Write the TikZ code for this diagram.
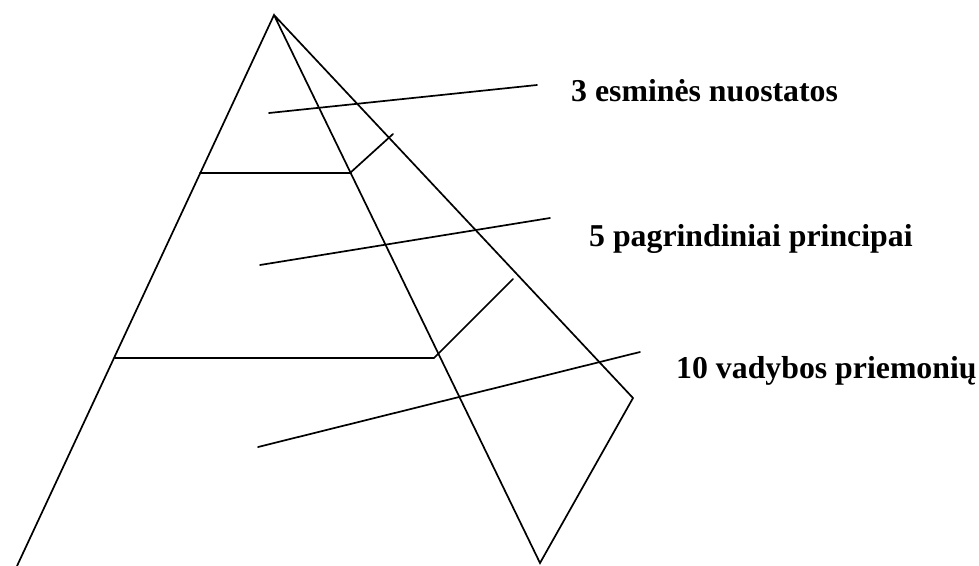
\documentclass[tikz,border=0pt]{standalone}
\usepackage{fontspec}
\setmainfont{Liberation Serif}
\begin{document}
\begin{tikzpicture}[x=1pt,y=-1pt,
  edge/.style={line width=1.7pt,line cap=round,line join=miter},
  lbl/.style={anchor=base west,inner sep=0pt,font=\fontsize{31.8}{36}\selectfont\bfseries}]
\useasboundingbox (0,0) rectangle (979,565);
% pyramid
\coordinate (apex) at (274,15);
\coordinate (bl) at (17,566);
\coordinate (bf) at (540,563);
\coordinate (br) at (633,398);
\draw[edge] (bl) -- (apex) -- (bf) -- (br) -- (apex);
% level divisions
\coordinate (h1a) at (200,173);
\coordinate (h1b) at (350,173);
\coordinate (h1c) at (393,134);
\draw[edge] (h1a) -- (h1b) -- (h1c);
\coordinate (h2a) at (115,358);
\coordinate (h2b) at (434,358);
\coordinate (h2c) at (513,279);
\draw[edge] (h2a) -- (h2b) -- (h2c);
% labels
\node[lbl] (t1) at (571,101) {3 esminės nuostatos};
\node[lbl] (t2) at (589,246) {5 pagrindiniai principai};
\node[lbl] (t3) at (676,378) {10 vadybos priemonių};
% leader lines
\coordinate (l1) at (269,113);
\coordinate (e1) at (537,85);
\coordinate (l2) at (260,265);
\coordinate (e2) at (550,218);
\coordinate (l3) at (258,447);
\coordinate (e3) at (640,352);
\draw[edge] (l1) -- (e1);
\draw[edge] (l2) -- (e2);
\draw[edge] (l3) -- (e3);
\end{tikzpicture}
\end{document}
